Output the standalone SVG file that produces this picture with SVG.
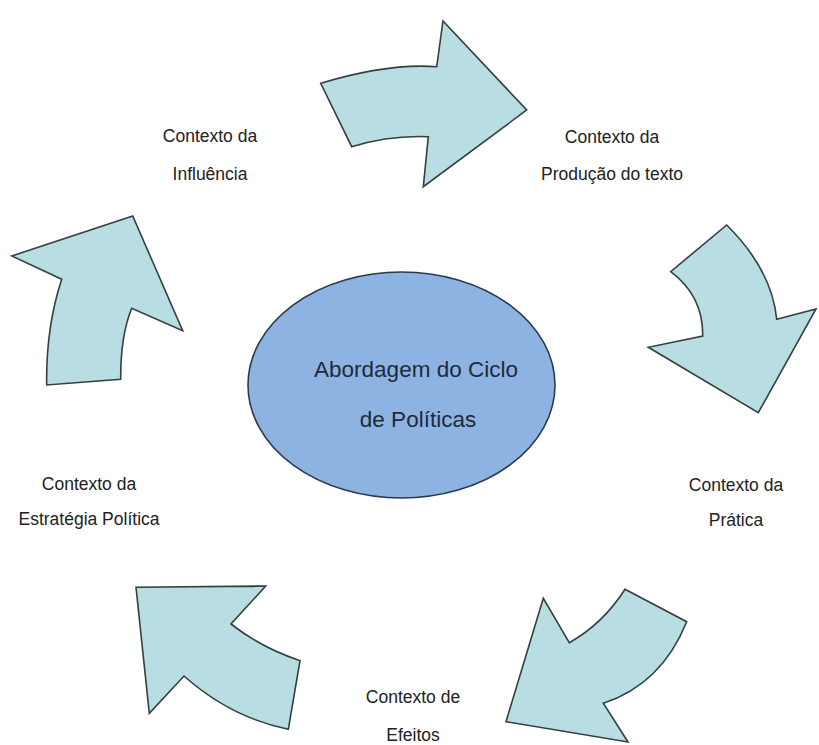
<svg xmlns="http://www.w3.org/2000/svg" width="819" height="745" viewBox="0 0 819 745">
<style>
.arrow{fill:#B8DDE3;stroke:#34403F;stroke-width:1.6;stroke-linejoin:miter}
.lbl{font-family:"Liberation Sans",Arial,sans-serif;font-size:17.5px;fill:#222;text-anchor:middle}
.ctr{font-family:"Liberation Sans",Arial,sans-serif;font-size:22.5px;fill:#1f2a3a;text-anchor:middle}
</style>
<rect width="819" height="745" fill="#fff"/>
<g id="connectors">
<path id="arrow-top" class="arrow" d="M320.7,83.3 Q388,63 436.7,66.7 L443,21 L526.7,110 L423.3,186.7 L428.3,136.7 Q390,135 351.7,146.7 Z"/>
<path id="arrow-right" class="arrow" d="M726.7,225 Q772,270 776.7,319.3 L816,309 L758.3,412.7 L648.3,347.3 L702.7,336 Q703.3,296 670.7,271.7 Z"/>
<path id="arrow-bottom-right" class="arrow" d="M625,589.3 L686.7,621.7 Q661.6,684 603.3,703.3 L628,742 L506,721.7 L543.3,598.3 L569.3,642.7 Q602.8,624 625,589.3 Z"/>
<path id="arrow-bottom-left" class="arrow" d="M136,587.3 L265.7,586 L231,624 Q261,647.6 300,660.7 L288.3,729.3 Q230.4,717.3 184,676 L149.3,713.3 Z"/>
<path id="arrow-left" class="arrow" d="M11.7,256 L132.7,216 L182.7,330.7 L131.7,308.3 Q120.4,336.2 120.7,379.3 L46.7,385 Q45.8,327.8 61.7,279.3 Z"/>
</g>
<g id="center">
<ellipse cx="401.5" cy="385" rx="153.5" ry="113" fill="#8DB3E2" stroke="#2E3A4A" stroke-width="1.6"/>
<text class="ctr" x="416" y="377">Abordagem do Ciclo</text>
<text class="ctr" x="418" y="427">de Políticas</text>
</g>
<g id="influencia">
<text class="lbl" x="210" y="142">Contexto da</text>
<text class="lbl" x="210" y="180">Influência</text>
</g>
<g id="producao">
<text class="lbl" x="612" y="143">Contexto da</text>
<text class="lbl" x="612" y="180">Produção do texto</text>
</g>
<g id="pratica">
<text class="lbl" x="736" y="491">Contexto da</text>
<text class="lbl" x="736" y="526">Prática</text>
</g>
<g id="efeitos">
<text class="lbl" x="413" y="703">Contexto de</text>
<text class="lbl" x="413" y="741">Efeitos</text>
</g>
<g id="estrategia">
<text class="lbl" x="89" y="490">Contexto da</text>
<text class="lbl" x="89" y="525">Estratégia Política</text>
</g>
</svg>
